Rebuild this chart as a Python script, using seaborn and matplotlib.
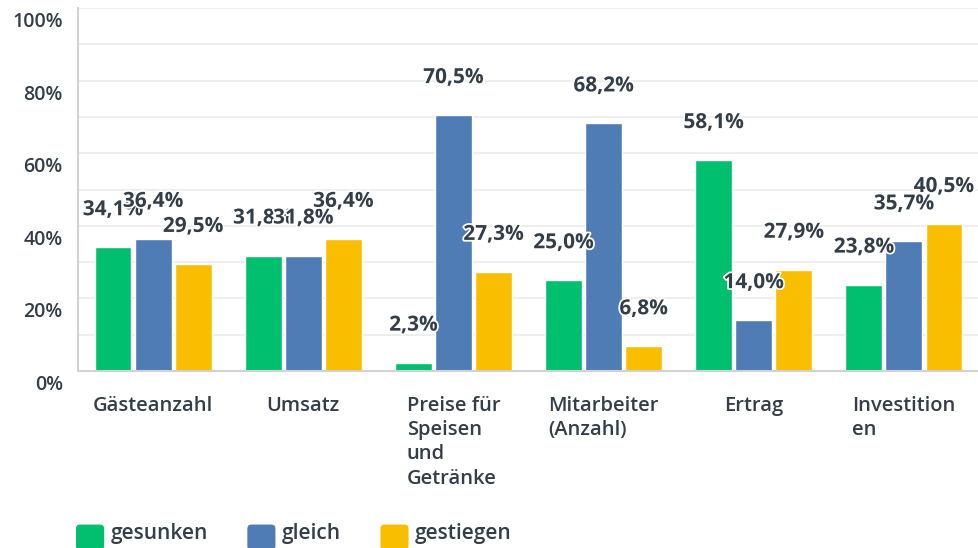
import pandas as pd
import seaborn as sns
import matplotlib.pyplot as plt
import matplotlib.patheffects as pe
from matplotlib.patches import FancyBboxPatch
from matplotlib.legend_handler import HandlerPatch
from matplotlib.ticker import MultipleLocator
from matplotlib.transforms import ScaledTranslation

categories = ["Gästeanzahl", "Umsatz", "Preise für\nSpeisen\nund\nGetränke",
              "Mitarbeiter\n(Anzahl)", "Ertrag", "Investition\nen"]
status = ["gesunken", "gleich", "gestiegen"]
gesunken = [34.1, 31.8, 2.3, 25.0, 58.1, 23.8]
gleich = [36.4, 31.8, 70.5, 68.2, 14.0, 35.7]
gestiegen = [29.5, 36.4, 27.3, 6.8, 27.9, 40.5]

COLORS = ["#00BF6F", "#507CB6", "#F9BE00"]
TEXT = "#333E48"

rows = []
for s, vals in zip(status, [gesunken, gleich, gestiegen]):
    for c, v in zip(categories, vals):
        rows.append({"kategorie": c, "status": s, "wert": v})
df = pd.DataFrame(rows)

sns.set_style("white")
plt.rcParams["font.family"] = ["Open Sans", "DejaVu Sans"]

fig = plt.figure(figsize=(9.79, 5.48), dpi=100)
ax = fig.add_axes([78 / 979, 1 - 371 / 548, 1 - 78 / 979, 363 / 548])

sns.barplot(df, x="kategorie", y="wert", hue="status", hue_order=status,
            order=categories, palette=COLORS, saturation=1, width=0.8,
            gap=0.08, errorbar=None, ax=ax, zorder=2)

ax.set_ylim(0, 100)
ax.set_xlim(-0.5, 5.5)
ax.yaxis.set_minor_locator(MultipleLocator(10))
ax.set_yticks(range(0, 101, 20), [f"{v}%" for v in range(0, 101, 20)])
ax.grid(axis="y", which="both", color="#EDEEEE", lw=1.5, zorder=0)
ax.set_axisbelow(True)
ax.set_xlabel("")
ax.set_ylabel("")

for side in ["top", "right"]:
    ax.spines[side].set_visible(False)
for side in ["left", "bottom"]:
    ax.spines[side].set_color("#D0D2D3")
    ax.spines[side].set_linewidth(1.5)

ax.tick_params(axis="both", which="both", length=0, colors=TEXT)
ax.tick_params(axis="y", pad=11, labelsize=14)
ax.tick_params(axis="x", pad=18, labelsize=14.5)
shift = ScaledTranslation(0, -4 / 100, fig.dpi_scale_trans)
for t in ax.get_yticklabels():
    t.set_va("top")
    t.set_fontweight("semibold")
    t.set_transform(t.get_transform() + shift)
for t in ax.get_xticklabels():
    t.set_ha("center")
    t.set_multialignment("left")
    t.set_fontweight("semibold")
    t.set_linespacing(1.28)
    t.set_va("top")

# value labels sit ~37 px above each bar top
for cont, vals in zip(ax.containers, [gesunken, gleich, gestiegen]):
    for bar, v in zip(cont, vals):
        ax.annotate(f"{v:.1f}".replace(".", ",") + "%",
                    (bar.get_x() + bar.get_width() / 2, bar.get_height()),
                    xytext=(0, 27), textcoords="offset points",
                    ha="center", va="center", fontsize=15, color=TEXT,
                    fontweight="bold", zorder=5,
                    path_effects=[pe.withStroke(linewidth=2.5, foreground="white")])


class RoundHandler(HandlerPatch):
    def create_artists(self, legend, orig_handle, xdescent, ydescent,
                       width, height, fontsize, trans):
        p = FancyBboxPatch((-xdescent, -ydescent - 4), width, height,
                           boxstyle="round,pad=0,rounding_size=3",
                           facecolor=orig_handle.get_facecolor(),
                           edgecolor="none", transform=trans)
        return [p]


handles, _ = ax.get_legend_handles_labels()
ax.get_legend().remove()
leg = fig.legend(handles, status, loc="upper left",
                 bbox_to_anchor=(76 / 979, 1 - 519 / 548), ncol=3, frameon=False,
                 fontsize=15, handlelength=1.35, handleheight=1.5,
                 handletextpad=0.3, columnspacing=1.9, borderpad=0,
                 borderaxespad=0,
                 handler_map={h: RoundHandler() for h in handles})
for t in leg.get_texts():
    t.set_color(TEXT)
    t.set_fontweight("semibold")

fig.savefig("out.png", dpi=100)
